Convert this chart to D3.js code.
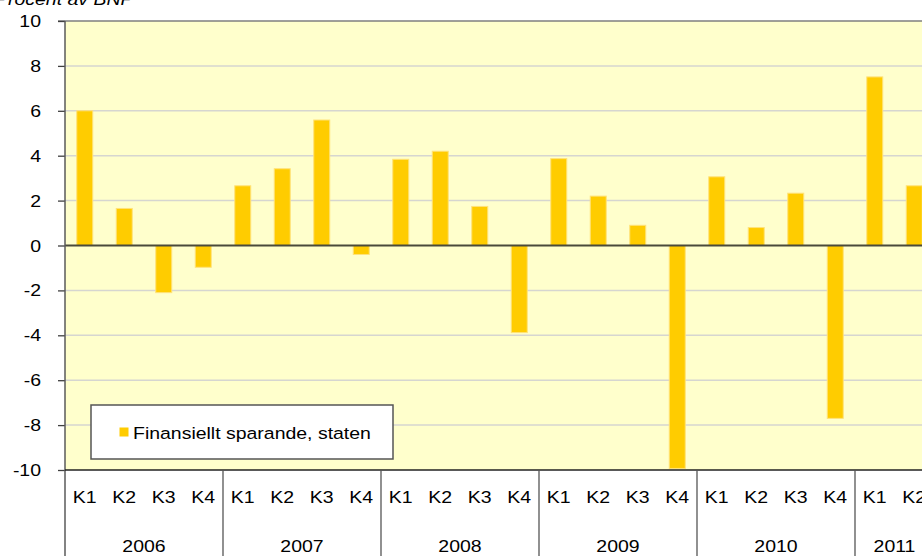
<!DOCTYPE html>
<html>
<head>
<meta charset="utf-8">
<script src="https://cdn.jsdelivr.net/npm/d3@7"></script>
<style>
  body { margin: 0; background: #fff; }
  text { font-family: "Liberation Sans", Arial, sans-serif; fill: #000; }
</style>
</head>
<body>
<div id="chart"></div>
<script>
var years = ["2006", "2007", "2008", "2009", "2010", "2011"];
var quartersPerYear = [4, 4, 4, 4, 4, 2];
var quarterLabels = ["K1", "K2", "K3", "K4"];
// Finansiellt sparande, staten (procent av BNP)
var sparande = [6.0, 1.65, -2.1, -0.97,
                2.66, 3.42, 5.59, -0.4,
                3.84, 4.2, 1.74, -3.88,
                3.87, 2.2, 0.9, -9.93,
                3.06, 0.8, 2.33, -7.7,
                7.51, 2.66];
var yTicks = [-10, -8, -6, -4, -2, 0, 2, 4, 6, 8, 10];

var svgWidth = 922;
var svgHeight = 556;
var sx = 1.18; // text in the original is slightly stretched sideways
var fontSize = 16.5;

// build category list
var data = [];
years.forEach((y, i) => {
    for (var q = 0; q < quartersPerYear[i]; q++) {
        data.push({ key: y + "-" + quarterLabels[q], year: y, q: quarterLabels[q], value: sparande[data.length] });
    }
});

var plotLeft = 65, plotTop = 21, plotBottom = 470;
var plotRight = plotLeft + data.length * 39.5;

var svg = d3.select("#chart")
    .append("svg")
    .attr("width", svgWidth)
    .attr("height", svgHeight);

var xScale = d3.scaleBand()
    .domain(data.map(d => d.key))
    .range([plotLeft, plotRight])
    .paddingInner(0.595)
    .paddingOuter(0.2975);

var yScale = d3.scaleLinear()
    .domain([-10, 10])
    .range([plotBottom, plotTop]);

function putText(g, str, x, y, anchor, extra) {
    var t = g.append("text")
        .attr("transform", `translate(${x},${y}) scale(${sx},1)`)
        .attr("text-anchor", anchor)
        .style("font-size", fontSize + "px")
        .text(str);
    if (extra) t.style("font-style", extra);
    return t;
}

// plot area
svg.append("rect")
    .attr("x", plotLeft)
    .attr("y", plotTop)
    .attr("width", plotRight - plotLeft)
    .attr("height", plotBottom - plotTop)
    .attr("fill", "#FFFFCC");

// gridlines
svg.append("g")
    .selectAll("line")
    .data(yTicks.filter(t => t != 0 && t != -10 && t != 10))
    .enter()
    .append("line")
    .attr("x1", plotLeft)
    .attr("x2", plotRight)
    .attr("y1", d => yScale(d))
    .attr("y2", d => yScale(d))
    .attr("stroke", "#d6d6d0")
    .attr("stroke-width", 1.5);

// top border
svg.append("line")
    .attr("x1", plotLeft - 7).attr("x2", plotRight)
    .attr("y1", yScale(10)).attr("y2", yScale(10))
    .attr("stroke", "#7f7f7f")
    .attr("stroke-width", 1.5);

// bars
svg.append("g")
    .selectAll("rect")
    .data(data)
    .enter()
    .append("rect")
    .attr("x", d => xScale(d.key))
    .attr("width", xScale.bandwidth())
    .attr("y", d => yScale(Math.max(0, d.value)))
    .attr("height", d => Math.abs(yScale(d.value) - yScale(0)))
    .attr("fill", "#FFCC00")
    .attr("stroke", "#FFE27A")
    .attr("stroke-width", 1);

// zero line
svg.append("line")
    .attr("x1", plotLeft).attr("x2", plotRight)
    .attr("y1", yScale(0)).attr("y2", yScale(0))
    .attr("stroke", "#4a4a3a")
    .attr("stroke-width", 2);

// y axis
var yAxis = d3.axisLeft(yScale)
    .tickValues(yTicks)
    .tickSize(7)
    .tickFormat("");
var yAxisG = svg.append("g")
    .attr("transform", `translate(${plotLeft},0)`)
    .call(yAxis);
yAxisG.select(".domain").remove();
yAxisG.selectAll(".tick line").attr("stroke", "#404040").attr("stroke-width", 1.3);
svg.append("line")
    .attr("x1", plotLeft).attr("x2", plotLeft)
    .attr("y1", plotTop).attr("y2", svgHeight)
    .attr("stroke", "#5a5a5a")
    .attr("stroke-width", 1.5);

var yLabels = svg.append("g");
yTicks.forEach(t => putText(yLabels, String(t), 41, yScale(t) + 6, "end"));

// x axis line
svg.append("line")
    .attr("x1", plotLeft).attr("x2", plotRight)
    .attr("y1", plotBottom).attr("y2", plotBottom)
    .attr("stroke", "#222")
    .attr("stroke-width", 1.5);

// year separators and labels
var xLabels = svg.append("g");
var idx = 0;
years.forEach((y, i) => {
    var first = data[idx].key;
    var last = data[idx + quartersPerYear[i] - 1].key;
    var x0 = xScale(first) - xScale.step() * xScale.paddingOuter();
    var x1 = xScale(last) + xScale.bandwidth() + xScale.step() * xScale.paddingOuter();
    svg.append("line")
        .attr("x1", x1).attr("x2", x1)
        .attr("y1", plotBottom).attr("y2", svgHeight)
        .attr("stroke", "#555")
        .attr("stroke-width", 1.3);
    putText(xLabels, y, (x0 + x1) / 2, 552, "middle");
    idx += quartersPerYear[i];
});
data.forEach(d => putText(xLabels, d.q, xScale(d.key) + xScale.bandwidth() / 2, 503, "middle"));

// title
putText(svg, "Procent av BNP", -5, 5, "start", "italic");

// legend
var legend = svg.append("g");
legend.append("rect")
    .attr("x", 91).attr("y", 405)
    .attr("width", 302).attr("height", 54)
    .attr("fill", "#fff")
    .attr("stroke", "#555")
    .attr("stroke-width", 1.5);
legend.append("rect")
    .attr("x", 119.5).attr("y", 427.5)
    .attr("width", 9).attr("height", 9)
    .attr("fill", "#FFCC00");
putText(legend, "Finansiellt sparande, staten", 133, 439, "start");
</script>
</body>
</html>
